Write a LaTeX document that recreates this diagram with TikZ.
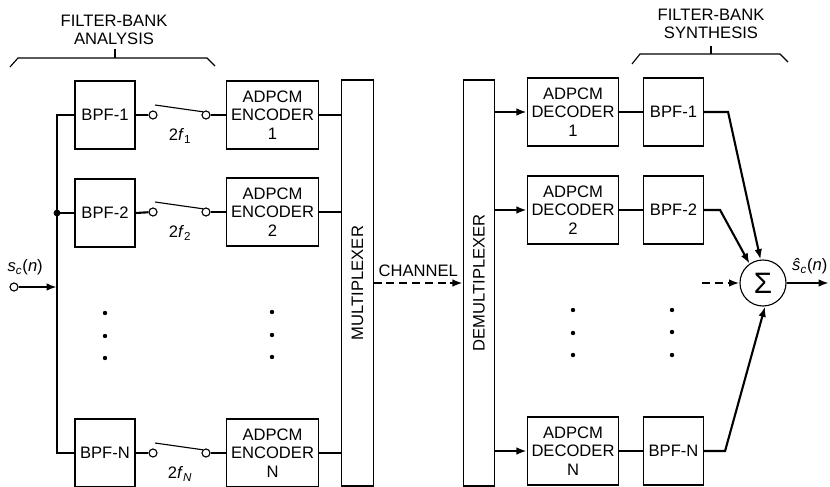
\documentclass[tikz,border=0pt]{standalone}
\usepackage{fontspec}
\setmainfont{Liberation Sans}
\usetikzlibrary{arrows.meta,calc}

\begin{document}
\begin{tikzpicture}[
  x=0.025cm, y=-0.025cm,
  font=\fontsize{11.8}{13}\selectfont,
  >={Latex[length=2.6mm,width=1.9mm]},
  box/.style={draw, line width=0.8pt, align=center, inner sep=0pt},
  bpf/.style={box, minimum width=1.5cm, minimum height=1.7cm},
  codec/.style={box, minimum width=2.28cm, minimum height=1.7cm},
  bar/.style={box, minimum width=0.78cm, minimum height=10.15cm},
  term/.style={circle, draw, line width=0.8pt, fill=white, inner sep=0pt, minimum size=0.2cm},
  wire/.style={line width=1.5pt},
  arr/.style={wire, ->},
  dot/.style={circle, fill, inner sep=0pt, minimum size=0.11cm},
  brace/.style={line width=0.8pt},
  lbl/.style={inner sep=1pt, align=center},
]
\useasboundingbox (0,0) rectangle (830,487);

%% ---------- filter-bank analysis ----------
\node[bpf] (bpf1) at (105,115) {BPF-1};
\node[bpf] (bpf2) at (105,213) {BPF-2};
\node[bpf] (bpfN) at (105,453) {BPF-N};

\node[lbl] (ana) at (114,30) {FILTER-BANK\\ANALYSIS};
\coordinate (anaTick) at (115,58);
\draw[brace] (10,67) -- (18,58) -- (207,58) -- (215,66);
\draw[brace] (anaTick) -- ++(0,-9);

%% input bus
\coordinate (busx) at (57,0);
\node[term] (in) at (14,287) {};
\node[lbl, anchor=south west] at (6,277) {\textit{s}\textsubscript{\textit{c}}(\textit{n})};
\draw[wire] (bpf1.west) -- (bpf1.west -| busx) -- (bpfN.west -| busx) -- (bpfN.west);
\draw[wire] (bpf2.west -| busx) -- (bpf2.west);
\node[dot, minimum size=0.17cm] at (bpf2.west -| busx) {};
\draw[arr] (in) -- (in -| busx);

%% ---------- samplers ----------
\node[term] (sw1a) at (153,115) {};
\node[term] (sw1b) at (206,115) {};
\node[term] (sw2a) at (153,212) {};
\node[term] (sw2b) at (206,212) {};
\node[term] (swNa) at (153,453) {};
\node[term] (swNb) at (206,453) {};
\draw[brace] ($(sw1a)+(2,-10)$) -- (sw1b.north west);
\draw[brace] ($(sw2a)+(2,-10)$) -- (sw2b.north west);
\draw[brace] ($(swNa)+(2,-10)$) -- (swNb.north west);
\node[lbl] at (180,136) {2\textit{f}\textsubscript{1}};
\node[lbl] at (180,233) {2\textit{f}\textsubscript{2}};
\node[lbl] at (180,474) {2\textit{f}\textsubscript{\textit{N}}};

%% ---------- encoders ----------
\node[codec] (enc1) at (272.5,115) {ADPCM\\ENCODER\\1};
\node[codec] (enc2) at (272.5,212) {ADPCM\\ENCODER\\2};
\node[codec] (encN) at (272.5,453) {ADPCM\\ENCODER\\N};

\draw[wire] (bpf1.east) -- (sw1a);
\draw[wire] (bpf2.east) -- (sw2a);
\draw[wire] (bpfN.east) -- (swNa);
\draw[wire] (sw1b) -- (enc1.west);
\draw[wire] (sw2b) -- (enc2.west);
\draw[wire] (swNb) -- (encN.west);

\node[dot] at (105,313) {}; \node[dot] at (105,336) {}; \node[dot] at (105,358) {};
\node[dot] at (272,312) {}; \node[dot] at (272,335) {}; \node[dot] at (272,357) {};

%% ---------- multiplexer / channel / demultiplexer ----------
\node[bar] (mux) at (357.5,283) {};
\node[rotate=90] at (mux.center) {MULTIPLEXER};
\node[bar] (demux) at (479,283) {};
\node[rotate=90] at (demux.center) {DEMULTIPLEXER};

\draw[wire] (enc1.east) -- (enc1.east -| mux.west);
\draw[wire] (enc2.east) -- (enc2.east -| mux.west);
\draw[wire] (encN.east) -- (encN.east -| mux.west);

\draw[arr, dashed, dash pattern=on 0.2cm off 0.12cm] (mux.east) -- node[lbl, above=3pt] {CHANNEL} (demux.west);

%% ---------- decoders ----------
\node[codec] (dec1) at (573,112) {ADPCM\\DECODER\\1};
\node[codec] (dec2) at (573,210) {ADPCM\\DECODER\\2};
\node[codec] (decN) at (573,451) {ADPCM\\DECODER\\N};

\draw[arr] (dec1.west -| demux.east) -- (dec1.west);
\draw[arr] (dec2.west -| demux.east) -- (dec2.west);
\draw[arr] (decN.west -| demux.east) -- (decN.west);

%% ---------- filter-bank synthesis ----------
\node[bpf] (rbpf1) at (673.5,112) {BPF-1};
\node[bpf] (rbpf2) at (673.5,210) {BPF-2};
\node[bpf] (rbpfN) at (673.5,451) {BPF-N};

\draw[wire] (dec1.east) -- (rbpf1.west);
\draw[wire] (dec2.east) -- (rbpf2.west);
\draw[wire] (decN.east) -- (rbpfN.west);

\node[lbl] (syn) at (711,24) {FILTER-BANK\\SYNTHESIS};
\coordinate (synTick) at (711,54);
\draw[brace] (632,64) -- (640,54) -- (780,54) -- (788,62);
\draw[brace] (synTick) -- ++(0,-8);

\node[dot] at (573,310) {}; \node[dot] at (573,333) {}; \node[dot] at (573,355) {};
\node[dot] at (672,310) {}; \node[dot] at (672,332) {}; \node[dot] at (672,355) {};

%% ---------- summation ----------
\node[circle, draw, line width=0.8pt, minimum size=1.15cm, inner sep=0pt,
      font=\fontsize{21}{21}\selectfont] (sum) at (763,283) {Σ};
\draw[arr] (rbpf1.east) -- ++(24,0) -- (sum.96);
\draw[arr] (rbpf2.east) -- ++(16,0) -- (sum.125);
\draw[arr] (rbpfN.east) -- ++(21,0) -- (sum.-85);

\coordinate (more) at (702,283);
\draw[arr, dashed, dash pattern=on 0.2cm off 0.12cm] (more) -- (sum.west);

\coordinate (out) at (829,283);
\draw[arr] (sum.east) -- (out);
\node[lbl, anchor=south east] at (829,276) {\textit{\^{s}}\textsubscript{\textit{c}}(\textit{n})};

\end{tikzpicture}
\end{document}
